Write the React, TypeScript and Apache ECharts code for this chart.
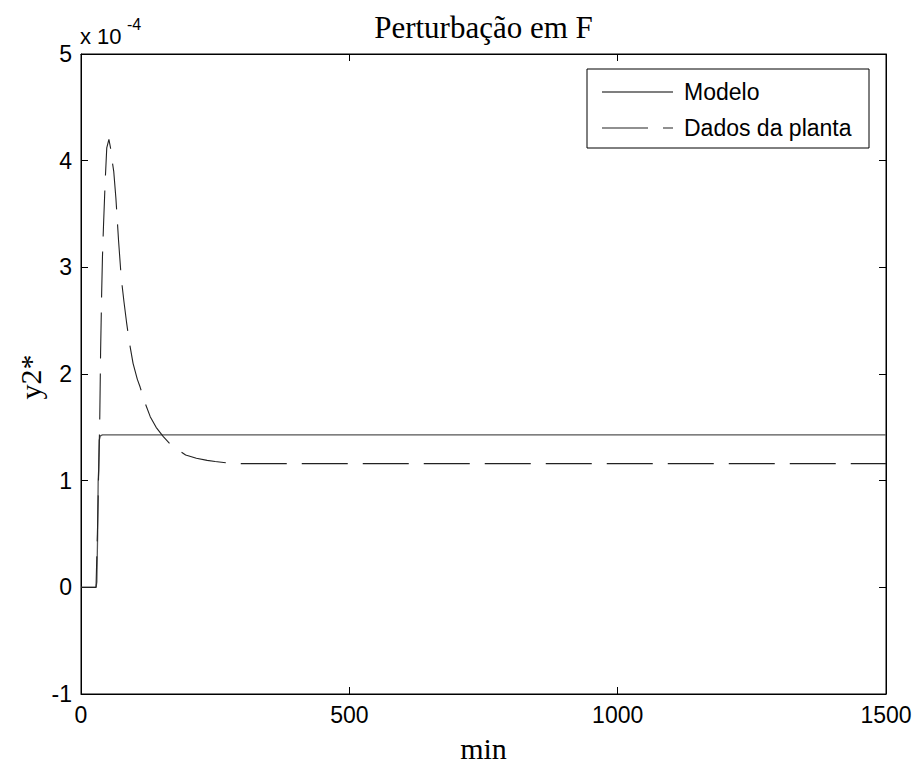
import React, { useEffect, useRef } from "react";
import * as echarts from "echarts";

const xTicks = [0, 500, 1000, 1500];
const yTicks = [-1, 0, 1, 2, 3, 4, 5];

const modeloT = [0, 28, 29.5, 31, 32, 33, 34, 36, 40, 1500];
const modeloY = [0, 0, 0.05, 0.5, 1.0, 1.1, 1.38, 1.42, 1.43, 1.43];

const plantaT = [0, 28, 31, 33, 35, 36.5, 38.5, 40, 42, 45, 48, 52, 55, 58, 61, 65, 70, 75, 80, 85, 90, 97, 105, 110, 120, 129, 140, 153, 165, 178, 195, 215, 235, 250, 283, 1500];
const plantaY = [0, 0, 0.6, 1.1, 1.6, 2.2, 2.76, 3.1, 3.4, 3.8, 4.12, 4.2, 4.12, 4.0, 3.9, 3.65, 3.25, 2.9, 2.68, 2.48, 2.3, 2.1, 1.95, 1.88, 1.72, 1.6, 1.5, 1.415, 1.35, 1.3, 1.24, 1.21, 1.19, 1.18, 1.16, 1.16];

const seriesNames = ["Modelo", "Dados da planta"];
const title = "Perturbação em F";

export default function App() {
  const ref = useRef<HTMLDivElement>(null);
  useEffect(() => {
    if (!ref.current) return;
    const chart = echarts.init(ref.current, null, { renderer: "svg" });
    const sans = "Liberation Sans";
    const serif = "Liberation Serif";
    const left = 81, top = 54, right = 886, bottom = 694;
    const common = {
      type: "value" as const,
      min: 0,
      max: 1500,
      interval: 500,
    };
    const line = { show: true, onZero: false, lineStyle: { color: "#000", width: 1 } };
    const tick = { show: true, inside: true, length: 7, lineStyle: { color: "#000" } };
    chart.setOption({
      animation: false,
      backgroundColor: "#fff",
      grid: {
        left, top, right: 918 - right, bottom: 766 - bottom,
        show: true, borderColor: "#000", borderWidth: 1, backgroundColor: "transparent",
      },
      xAxis: [
        {
          ...common,
          position: "bottom",
          axisLine: line,
          axisTick: tick,
          axisLabel: {
            color: "#000", fontFamily: sans, fontSize: 23, margin: 9,
            formatter: (v: number) => (xTicks.includes(v) ? String(v) : ""),
          },
          splitLine: { show: false },
        },
        {
          ...common,
          position: "top",
          axisLine: line,
          axisTick: tick,
          axisLabel: { show: false },
          splitLine: { show: false },
        },
      ],
      yAxis: [
        {
          type: "value", min: -1, max: 5, interval: 1, position: "left",
          axisLine: line,
          axisTick: tick,
          axisLabel: {
            color: "#000", fontFamily: sans, fontSize: 23, margin: 9,
            formatter: (v: number) => (yTicks.includes(v) ? String(v) : ""),
          },
          splitLine: { show: false },
        },
        {
          type: "value", min: -1, max: 5, interval: 1, position: "right",
          axisLine: line,
          axisTick: tick,
          axisLabel: { show: false },
          splitLine: { show: false },
        },
      ],
      series: [
        {
          name: seriesNames[0], type: "line", xAxisIndex: 0, yAxisIndex: 0,
          showSymbol: false, symbol: "none",
          lineStyle: { color: "#555", width: 1.3, type: "solid" },
          data: modeloT.map((t, i) => [t, modeloY[i]]),
        },
        {
          name: seriesNames[1], type: "line", xAxisIndex: 0, yAxisIndex: 0,
          showSymbol: false, symbol: "none",
          lineStyle: { color: "#222", width: 1.1, type: [46, 15] },
          data: plantaT.map((t, i) => [t, plantaY[i]]),
        },
      ],
      graphic: [
        {
          type: "text", x: (left + right) / 2, y: 27,
          style: { text: title, fontFamily: serif, fontSize: 31, fill: "#000", align: "center", verticalAlign: "middle" },
        },
        {
          type: "text", x: 80, y: 36,
          style: { text: "x 10", fontFamily: sans, fontSize: 22, fill: "#000", verticalAlign: "middle", align: "left" },
        },
        {
          type: "text", x: 127, y: 24,
          style: { text: "-4", fontFamily: sans, fontSize: 16, fill: "#000", verticalAlign: "middle", align: "left" },
        },
        {
          type: "text", x: 30, y: 377, rotation: Math.PI / 2,
          style: { text: "y2*", fontFamily: serif, fontSize: 30, fill: "#000", align: "center", verticalAlign: "middle" },
        },
        {
          type: "text", x: (left + right) / 2, y: 748,
          style: { text: "min", fontFamily: serif, fontSize: 30, fill: "#000", align: "center", verticalAlign: "middle" },
        },
        {
          type: "rect", shape: { x: 587, y: 69, width: 282, height: 79 },
          style: { fill: "#fff", stroke: "#000", lineWidth: 1 }, z: 100,
        },
        {
          type: "line", shape: { x1: 602, y1: 92, x2: 673, y2: 92 },
          style: { stroke: "#555", lineWidth: 1.3 }, z: 101,
        },
        {
          type: "line", shape: { x1: 602, y1: 128, x2: 673, y2: 128 },
          style: { stroke: "#222", lineWidth: 1.1, lineDash: [46, 15] }, z: 101,
        },
        {
          type: "text", x: 684, y: 92, z: 101,
          style: { text: seriesNames[0], fontFamily: sans, fontSize: 23, fill: "#000", verticalAlign: "middle" },
        },
        {
          type: "text", x: 684, y: 128, z: 101,
          style: { text: seriesNames[1], fontFamily: sans, fontSize: 23, fill: "#000", verticalAlign: "middle" },
        },
      ],
    });
    return () => chart.dispose();
  }, []);
  return <div ref={ref} style={{ width: 918, height: 766, position: "absolute", left: 0, top: 0 }} />;
}
